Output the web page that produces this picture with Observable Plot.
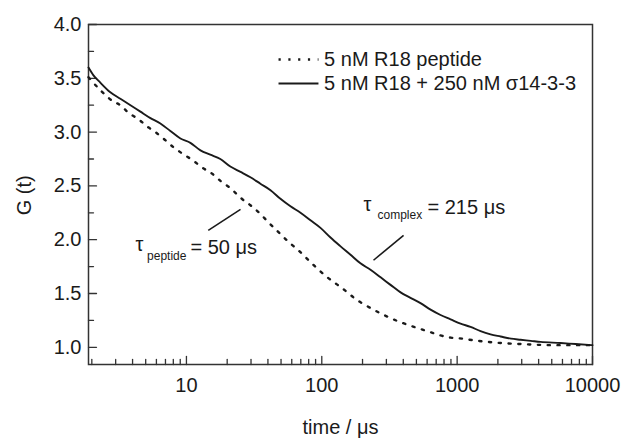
<!DOCTYPE html>
<html><head><meta charset="utf-8">
<script src="https://cdn.jsdelivr.net/npm/d3@7"></script>
<script src="https://cdn.jsdelivr.net/npm/@observablehq/plot@0.6"></script>
<style>body{margin:0;background:#fff} svg{display:block}</style>
</head><body><div id="chart"></div>
<script>
// ---- data ----
const peptideTime = [1.89,2.31,2.84,3.25,3.73,4.42,5.15,5.90,6.76,8.01,9.34,11.08,13.1,15.6,18.1,21.1,25.1,29.7,35.2,40.4,47.9,56.8,67.3,79.8,92.9,110,131,155,177,218,258,311,369,452,536,636,754,894,1097,1322,1678,2094,2612,3314,4135,5158,7250,10000];
const peptideG    = [3.51,3.39,3.29,3.25,3.18,3.12,3.05,3.00,2.94,2.86,2.80,2.74,2.67,2.61,2.54,2.48,2.39,2.32,2.24,2.16,2.07,1.98,1.90,1.81,1.73,1.65,1.58,1.51,1.45,1.38,1.33,1.28,1.24,1.20,1.17,1.14,1.11,1.09,1.08,1.065,1.05,1.04,1.033,1.027,1.022,1.02,1.02,1.02];
const complexTime = [1.89,2.05,2.31,2.74,3.25,3.86,4.57,5.42,6.42,7.61,9.03,10.7,12.7,15.0,17.8,21.1,25.1,29.7,35.2,41.8,49.5,58.7,69.6,82.5,97.8,116,137,163,193,229,272,322,382,452,536,636,754,894,1060,1256,1489,1766,2094,2500,2942,3500,4135,5810,7500,10000];
const complexG    = [3.60,3.53,3.46,3.37,3.31,3.25,3.19,3.13,3.08,3.01,2.94,2.90,2.83,2.79,2.75,2.68,2.63,2.58,2.52,2.46,2.38,2.31,2.25,2.18,2.11,2.02,1.94,1.86,1.78,1.72,1.65,1.58,1.51,1.46,1.41,1.35,1.30,1.26,1.22,1.19,1.15,1.12,1.10,1.08,1.07,1.06,1.05,1.04,1.03,1.02];
const seriesNames = ["5 nM R18 peptide", "5 nM R18 + 250 nM \u03C314-3-3"];
const xTickLabels = [10, 100, 1000, 10000];
const yTickLabels = [1.0, 1.5, 2.0, 2.5, 3.0, 3.5, 4.0];
const xDomain = [1.89, 10000];
const yDomain = [0.84, 4.0];
const xTitle = "time / \u03BCs";
const yTitle = "G (t)";

// minor ticks
const xMinor = [];
for (const dec of [1, 10, 100, 1000]) for (let k = 2; k <= 9; k++) { const v = k * dec; if (v >= xDomain[0] && v <= xDomain[1]) xMinor.push(v); }
const yMinor = [1.25, 1.75, 2.25, 2.75, 3.25, 3.75];

const peptide = peptideTime.map((t, i) => ({t, G: peptideG[i]}));
const complex = complexTime.map((t, i) => ({t, G: complexG[i]}));

// legend & annotations (positions in data space)
const legendT = [47.9, 94.5, 104];
const legendG = [3.675, 3.452];
const legendRows = seriesNames.map((name, i) => ({t1: legendT[0], t2: legendT[1], tt: legendT[2], G: legendG[i], name}));
const ink = "#1a1a1a";
const dotted = "2.2,7.6";
const tickShape = {draw(ctx, l) { ctx.moveTo(0, 0); ctx.lineTo(0, -l); }};
const font = "'Liberation Sans', Arial, sans-serif";

const plot = Plot.plot({
  width: 622, height: 439,
  marginLeft: 88, marginRight: 30, marginTop: 24, marginBottom: 75,
  style: {fontFamily: font, fontSize: "20px", color: ink, background: "#fff"},
  x: {type: "log", domain: xDomain},
  y: {domain: yDomain},
  marks: [
    Plot.frame({stroke: "#333", strokeWidth: 1.5}),
    // inward ticks
    Plot.vector(xTickLabels, {x: d => d, y: () => yDomain[0], length: 8, rotate: 0, anchor: "start", shape: tickShape, stroke: "#333", strokeWidth: 1.3}),
    Plot.vector(xMinor, {x: d => d, y: () => yDomain[0], length: 5, rotate: 0, anchor: "start", shape: tickShape, stroke: "#333", strokeWidth: 1.3}),
    Plot.vector(yTickLabels, {y: d => d, x: () => xDomain[0], length: 8, rotate: 90, anchor: "start", shape: tickShape, stroke: "#333", strokeWidth: 1.3}),
    Plot.vector(yMinor, {y: d => d, x: () => xDomain[0], length: 5, rotate: 90, anchor: "start", shape: tickShape, stroke: "#333", strokeWidth: 1.3}),
    Plot.axisX({ticks: xTickLabels, tickSize: 0, tickPadding: 13, tickFormat: d => String(d), label: null, fontSize: 20, fill: ink}),
    Plot.axisY({ticks: yTickLabels, tickSize: 0, tickPadding: 7, tickFormat: d3.format(".1f"), label: null, fontSize: 20, fill: ink}),
    Plot.text([xTitle], {frameAnchor: "bottom", dy: 69, lineAnchor: "bottom", fontSize: 20, fill: ink}),
    Plot.text([yTitle], {frameAnchor: "left", y: () => 2.227, rotate: -90, dx: -64, fontSize: 20, fill: ink}),
    // curves
    Plot.line(peptide, {x: "t", y: "G", stroke: ink, strokeWidth: 2.4, strokeDasharray: dotted, curve: "monotone-x"}),
    Plot.line(complex, {x: "t", y: "G", stroke: ink, strokeWidth: 1.9, curve: "monotone-x"}),
    // legend
    Plot.link(legendRows.slice(0, 1), {x1: "t1", x2: "t2", y1: "G", y2: "G", stroke: ink, strokeWidth: 2.4, strokeDasharray: dotted}),
    Plot.link(legendRows.slice(1), {x1: "t1", x2: "t2", y1: "G", y2: "G", stroke: ink, strokeWidth: 2}),
    Plot.text(legendRows, {x: "tt", y: "G", text: "name", textAnchor: "start", lineAnchor: "middle", fontSize: 20, fill: ink}),
    // annotations: peptide
    Plot.link([{a: 14.5, b: 2.087, c: 25.1, d: 2.282}], {x1: "a", y1: "b", x2: "c", y2: "d", stroke: ink, strokeWidth: 1.6}),
    Plot.text(["\u03C4"], {x: () => 4.81, y: () => 1.892, textAnchor: "end", lineAnchor: "bottom", fontSize: 20, fill: ink}),
    Plot.text(["peptide"], {x: () => 10, y: () => 1.809, textAnchor: "end", lineAnchor: "bottom", fontSize: 12, fill: ink}),
    Plot.text(["= 50 \u03BCs"], {x: () => 10.7, y: () => 1.864, textAnchor: "start", lineAnchor: "bottom", fontSize: 20, fill: ink}),
    // annotations: complex
    Plot.link([{a: 241, b: 1.809, c: 402, d: 2.041}], {x1: "a", y1: "b", x2: "c", y2: "d", stroke: ink, strokeWidth: 1.6}),
    Plot.text(["\u03C4"], {x: () => 203, y: () => 2.264, textAnchor: "start", lineAnchor: "bottom", fontSize: 20, fill: ink}),
    Plot.text(["complex"], {x: () => 258, y: () => 2.189, textAnchor: "start", lineAnchor: "bottom", fontSize: 12, fill: ink}),
    Plot.text(["= 215 \u03BCs"], {x: () => 604, y: () => 2.236, textAnchor: "start", lineAnchor: "bottom", fontSize: 20, fill: ink})
  ]
});
document.getElementById("chart").append(plot);
</script>
</body></html>
